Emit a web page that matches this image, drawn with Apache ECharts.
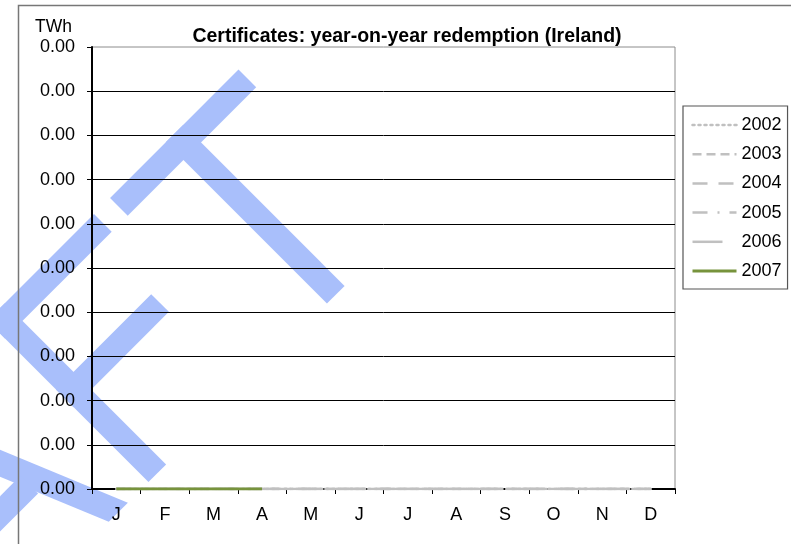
<!DOCTYPE html>
<html>
<head>
<meta charset="utf-8">
<script src="https://cdn.jsdelivr.net/npm/echarts@6/dist/echarts.min.js"></script>
<style>
  html, body { margin: 0; padding: 0; background: #fff; }
  #chart { width: 791px; height: 544px; }
</style>
</head>
<body>
<div id="chart"></div>
<script>
// Months along the x axis
const months = ['J', 'F', 'M', 'A', 'M', 'J', 'J', 'A', 'S', 'O', 'N', 'D'];
// Legend years
const years = ['2002', '2003', '2004', '2005', '2006', '2007'];
// Monthly redemption, TWh
const redemption2002 = [0, 0, 0, 0, 0, 0, 0, 0, 0, 0, 0, 0];
const redemption2003 = [0, 0, 0, 0, 0, 0, 0, 0, 0, 0, 0, 0];
const redemption2004 = [0, 0, 0, 0, 0, 0, 0, 0, 0, 0, 0, 0];
const redemption2005 = [0, 0, 0, 0, 0, 0, 0, 0, 0, 0, 0, 0];
const redemption2006 = [0, 0, 0, 0, 0, 0, 0, 0, 0, 0, 0, 0];
const redemption2007 = [0, 0, 0, 0, null, null, null, null, null, null, null, null];
// Value axis range (TWh)
const yMin = 0;
const yMax = 0.001;
const yStep = 0.0001;

const FONT = "'Liberation Sans', Arial, sans-serif";
const GREY = '#c0c0c0';
const lineStyles = {
  '2002': { color: GREY, width: 2.5, type: [2, 4], cap: 'round' },
  '2003': { color: GREY, width: 2.5, type: [9, 5] },
  '2004': { color: GREY, width: 2.5, type: [15, 11] },
  '2005': { color: GREY, width: 2.5, type: [15, 10, 2, 10] },
  '2006': { color: GREY, width: 2.5, type: [30, 14] },
  '2007': { color: '#77933c', width: 3, type: 'solid' }
};
const seriesData = [redemption2002, redemption2003, redemption2004,
                    redemption2005, redemption2006, redemption2007];

// "DRAFT" stamp, built from thick strokes in a letter frame
// (x along the baseline, y upward negative), then turned 45 degrees.
const WM = '#a9bffb';
const wmZ = -10;
function bar(x, y, w, h) {
  return { type: 'rect', z: wmZ, shape: { x: x, y: y, width: w, height: h }, style: { fill: WM } };
}
function poly(points) {
  return { type: 'polygon', z: wmZ, shape: { points: points }, style: { fill: WM } };
}
function stroke(points) {
  return { type: 'polyline', z: wmZ, shape: { points: points },
           style: { stroke: WM, lineWidth: 25, fill: null, lineCap: 'butt', lineJoin: 'miter' } };
}
const stamp = [
  // D
  bar(-900, -228, 25, 228),
  stroke([[-900, -215.5], [-840, -215.5], [-795, -190], [-780, -114], [-795, -38], [-840, -12.5], [-900, -12.5]]),
  // R
  bar(-700, -228, 25, 228),
  stroke([[-700, -215.5], [-605, -215.5], [-578, -190], [-578, -140], [-605, -115], [-700, -115]]),
  poly([[-640, -115], [-610, -115], [-545, 0], [-575, 0]]),
  // A
  poly([[-265, 0], [-292, 0], [-386.4, -228], [-359.4, -228]]),
  poly([[-386.4, -228], [-413.4, -228], [-507.8, 0], [-480.8, 0]]),
  bar(-450, -95, 128, 25),
  // F
  bar(-235.9, -228, 25, 228),
  bar(-235.9, -228, 151, 25),
  bar(-235.9, -130.9, 134.8, 25),
  // T
  bar(-62.2, -228, 181.7, 25),
  bar(16.5, -228, 25, 228)
];

const chart = echarts.init(document.getElementById('chart'), null, { renderer: 'canvas' });

chart.setOption({
  animation: false,
  backgroundColor: '#ffffff',
  textStyle: { fontFamily: FONT, color: '#000' },
  grid: {
    left: 92, top: 47, right: 116, bottom: 55,
    show: true, borderColor: '#8c8c8c', borderWidth: 1,
    containLabel: false
  },
  graphic: [
    {
      type: 'group', x: 315.25, y: 315.25, rotation: Math.PI / 4,
      z: wmZ, silent: true, children: stamp
    },
    {
      type: 'rect', z: 10, silent: true,
      shape: { x: 18.5, y: 5.5, width: 900, height: 900 },
      style: { fill: null, stroke: '#777777', lineWidth: 1.5 }
    },
    {
      type: 'text', z: 10, x: 407, y: 37,
      style: {
        text: 'Certificates: year-on-year redemption (Ireland)',
        font: "bold 19.5px " + FONT, fill: '#000',
        align: 'center', verticalAlign: 'middle'
      }
    }
  ],
  legend: {
    orient: 'vertical', left: 683, top: 106,
    padding: [9, 6, 8, 8],
    itemWidth: 44, itemHeight: 14, itemGap: 9.2,
    borderColor: '#555555', borderWidth: 1.2, borderRadius: 0,
    backgroundColor: '#ffffff',
    itemStyle: { opacity: 0 },
    lineStyle: { width: 'inherit', type: 'inherit', color: 'inherit', cap: 'inherit' },
    textStyle: { fontSize: 18, fontFamily: FONT, color: '#000', lineHeight: 20 },
    data: years
  },
  xAxis: {
    type: 'category',
    data: months,
    boundaryGap: true,
    axisLine: { show: true, lineStyle: { color: '#000', width: 2 } },
    axisTick: { show: true, interval: 0, length: 5, lineStyle: { color: '#000', width: 1 } },
    axisLabel: { fontSize: 18, fontFamily: FONT, color: '#000', margin: 17, interval: 0 },
    splitLine: { show: false }
  },
  yAxis: {
    type: 'value',
    min: yMin, max: yMax, interval: yStep,
    name: 'TWh',
    nameLocation: 'end',
    nameGap: 11,
    nameTextStyle: { fontSize: 17.5, fontFamily: FONT, color: '#000', align: 'right', padding: [0, 20, 0, 0] },
    axisLine: { show: true, lineStyle: { color: '#000', width: 2 } },
    axisTick: { show: true, length: 5, lineStyle: { color: '#000', width: 1 } },
    axisLabel: {
      fontSize: 18, fontFamily: FONT, color: '#000', margin: 17,
      formatter: function (v) { return v.toFixed(2); }
    },
    splitLine: { show: true, showMinLine: false, showMaxLine: false, lineStyle: { color: '#000', width: 1 } }
  },
  series: years.map(function (y, i) {
    return {
      name: y,
      type: 'line',
      data: seriesData[i],
      symbol: 'none',
      showSymbol: false,
      connectNulls: false,
      lineStyle: lineStyles[y],
      itemStyle: { color: lineStyles[y].color },
      z: 2 + i
    };
  })
});
</script>
</body>
</html>
